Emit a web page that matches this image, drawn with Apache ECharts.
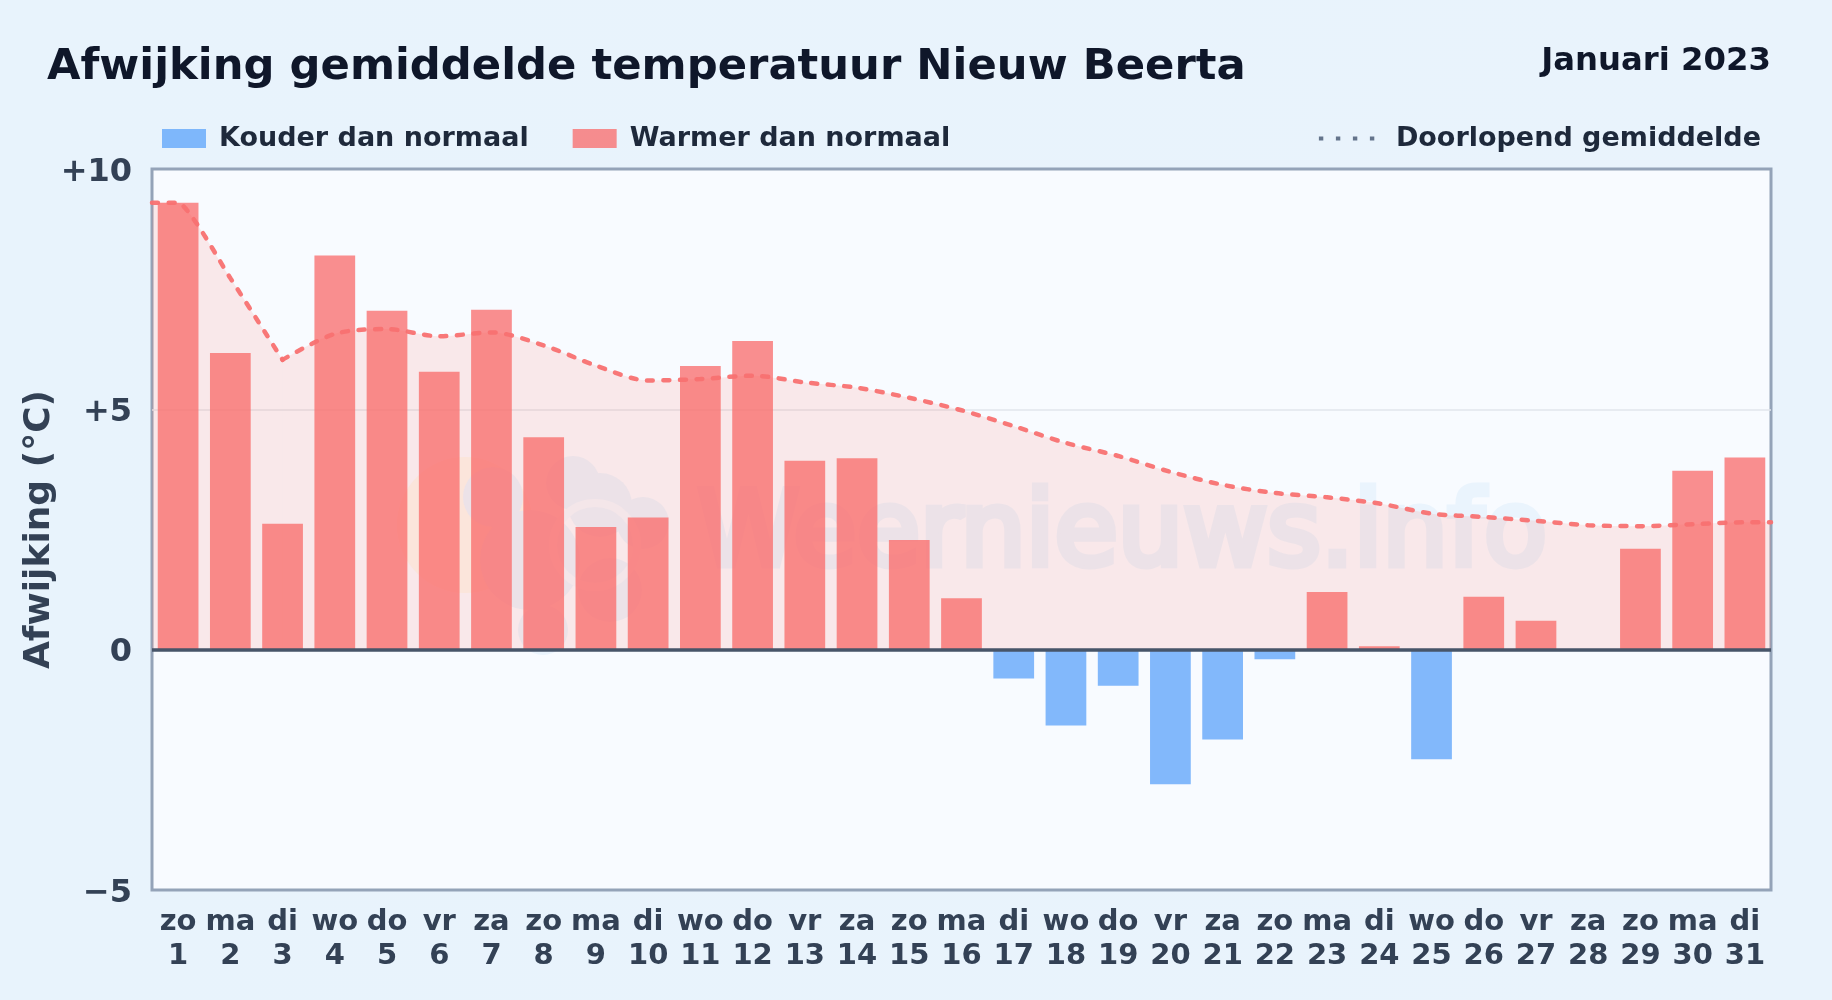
<!DOCTYPE html>
<html><head><meta charset="utf-8">
<style>html,body{margin:0;padding:0;background:linear-gradient(90deg,#e8f3fc,#e9f3fc);}#c{width:1832px;height:1000px;}</style>
<script src="https://cdn.jsdelivr.net/npm/echarts@6/dist/echarts.min.js"></script>
</head><body><div id="c"></div>
<script>
const weekdays = ['zo','ma','di','wo','do','vr','za','zo','ma','di','wo','do','vr','za','zo','ma','di','wo','do','vr','za','zo','ma','di','wo','do','vr','za','zo','ma','di'];
const days = [1,2,3,4,5,6,7,8,9,10,11,12,13,14,15,16,17,18,19,20,21,22,23,24,25,26,27,28,29,30,31];
const anomaly = [9.3,6.17,2.62,8.2,7.05,5.78,7.07,4.42,2.55,2.75,5.9,6.42,3.93,3.98,2.28,1.07,-0.6,-1.58,-0.75,-2.8,-1.87,-0.2,1.2,0.07,-2.28,1.1,0.6,0,2.1,3.72,4.0];
const runningMean = [9.3,7.73,6.03,6.57,6.67,6.52,6.6,6.33,5.91,5.6,5.63,5.7,5.56,5.45,5.24,4.98,4.65,4.3,4.03,3.7,3.43,3.26,3.17,3.04,2.83,2.76,2.68,2.59,2.57,2.61,2.65];
const yTicks = {'10':'+10','5':'+5','0':'0','-5':'\u22125'};
const coldName='Kouder dan normaal', warmName='Warmer dan normaal', meanName='Doorlopend gemiddelde';
const FONT='"DejaVu Sans"';

const categories = days.map((d,i)=>weekdays[i]+'\n'+d);
const warm = anomaly.map(v=>v>0?v:null);
const cold = anomaly.map(v=>v<0?v:null);
const meanPts = [[0.5,runningMean[0]]].concat(days.map((d,i)=>[d,runningMean[i]]),[[31.5,runningMean[30]]]);
const meanHead = meanPts.slice(0,4);
const meanTail = meanPts.slice(3);
const wm = '#eaf4fd';
const blob = (cx,cy,r,fill)=>({type:'circle',z:1,silent:true,shape:{cx,cy,r},style:{fill:fill||wm}});
const meanLine = {color:'rgba(248,113,113,0.95)',width:4.5,type:[6,10.5],cap:'round'};
const meanArea = {color:'rgba(255,107,90,0.13)',opacity:1,origin:0};

const chart = echarts.init(document.getElementById('c'),null,{renderer:'canvas'});
chart.setOption({
  animation:false,
  backgroundColor:'transparent',
  textStyle:{fontFamily:FONT},
  title:[
    {text:'Afwijking gemiddelde temperatuur Nieuw Beerta',left:42,top:41,textStyle:{fontFamily:FONT,fontWeight:'bold',fontSize:43.3,color:'#0f172a'}},
    {text:'Januari 2023',right:56,top:41,textStyle:{fontFamily:FONT,fontWeight:'bold',fontSize:32.3,color:'#0f172a'}}
  ],
  legend:[
    {data:[{name:coldName},{name:warmName}],left:157,top:120,itemWidth:44,itemHeight:19,itemGap:44,icon:'rect',
     textStyle:{fontFamily:FONT,fontWeight:'bold',fontSize:27,color:'#1e293b',padding:[0,0,0,8]}},
    {data:[{name:meanName,itemStyle:{opacity:0},lineStyle:{color:'#64748b',width:4,type:[4.4,12.6],cap:'butt'}}],
     right:66,top:120,itemWidth:56,itemHeight:19,
     textStyle:{fontFamily:FONT,fontWeight:'bold',fontSize:27,color:'#1e293b',padding:[0,0,0,16]}}
  ],
  grid:{left:152,right:61,top:169,bottom:110,show:true,backgroundColor:'#f8fbff',borderColor:'#94a3b8',borderWidth:3,containLabel:false},
  xAxis:[
    {type:'category',data:categories,boundaryGap:true,axisLine:{show:false},axisTick:{show:false},splitLine:{show:false},
     axisLabel:{interval:0,margin:15,fontFamily:FONT,fontWeight:'bold',fontSize:29,lineHeight:34.5,color:'#334155'}},
    {type:'value',min:0.5,max:31.5,show:false,splitLine:{show:false}}
  ],
  yAxis:{type:'value',min:-5,max:10,interval:5,name:'Afwijking (°C)',nameLocation:'middle',nameRotate:90,nameGap:94,nameMoveOverlap:false,
    nameTextStyle:{fontFamily:FONT,fontWeight:'bold',fontSize:36,color:'#334155'},
    axisLine:{show:false},axisTick:{show:false},
    axisLabel:{margin:20,fontFamily:FONT,fontWeight:'bold',fontSize:32,color:'#334155',verticalAlign:'top',lineHeight:7,formatter:v=>yTicks[String(v)]},
    splitLine:{show:true,showMinLine:false,showMaxLine:false,lineStyle:{color:'#e2e6ec',width:1.5}}},
  graphic:[
    {type:'circle',z:1,silent:true,shape:{cx:465,cy:525,r:68},style:{fill:'#fbf7ee'}},
    blob(493,497,30),blob(573,483,27),blob(643,523,26),blob(600,505,32),blob(543,630,25),blob(610,590,32),blob(530,560,50),
    {type:'circle',z:1,silent:true,shape:{cx:595,cy:545,r:42},style:{fill:'none',stroke:'#f3f8fe',lineWidth:8}},
    {type:'text',z:1,silent:true,left:694,top:483,style:{text:'Weernieuws.info',font:'103px "DejaVu Sans"',fill:wm,stroke:wm,lineWidth:7,lineJoin:'round'}}
  ],
  series:[
    {name:meanName,type:'line',xAxisIndex:1,data:meanHead,smooth:0.15,showSymbol:false,z:5,
     lineStyle:meanLine,itemStyle:{color:'#ff6b6b'},areaStyle:meanArea},
    {name:meanName,type:'line',xAxisIndex:1,data:meanTail,smooth:0.3,showSymbol:false,z:5,
     lineStyle:meanLine,itemStyle:{color:'#ff6b6b'},areaStyle:meanArea},
    {name:warmName,type:'bar',xAxisIndex:0,data:warm,barWidth:'78%',barGap:'-100%',z:3,itemStyle:{color:'rgba(250,105,105,0.75)'},
     markLine:{silent:true,symbol:'none',label:{show:false},lineStyle:{color:'#475569',width:3.5,type:'solid'},data:[{yAxis:0}],z:6,animation:false}},
    {name:coldName,type:'bar',xAxisIndex:0,data:cold,barWidth:'78%',barGap:'-100%',z:3,itemStyle:{color:'rgba(96,165,250,0.78)'}}
  ]
});
</script></body></html>
